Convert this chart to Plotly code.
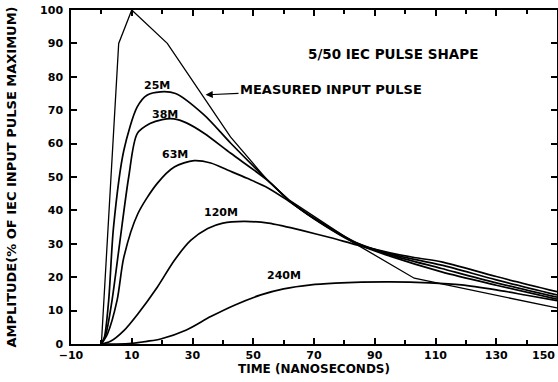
import plotly.graph_objects as go

# ---- data ----
t_measured = [0, 5.7, 10, 21.7, 42.5, 54.7, 62, 84.4, 103, 150]
y_measured = [0, 90, 100, 90, 62, 49, 43, 29.6, 19.7, 10.8]

t_25m = [0, 1, 2.4, 4, 7.4, 11.8, 15, 19.5, 24.4, 33.8, 42.6, 54.7, 62, 70, 84, 95, 112, 130, 150]
y_25m = [0, 2, 13, 35, 58, 71, 74.5, 75.5, 75, 68.6, 60.1, 49.1, 42.8, 37.5, 30, 26.3, 21.6, 17.6, 13.4]

t_38m = [0, 1.5, 3.5, 6, 9, 11.8, 16, 20, 23.9, 28, 33.8, 42.6, 54.7, 62, 70, 84, 95, 112, 130, 150]
y_38m = [0, 3, 13, 30, 50, 63, 66, 67.2, 67.4, 66.2, 63.1, 57.1, 49, 42.8, 37.6, 30.2, 26.7, 22.6, 18.3, 14.0]

t_63m = [0, 2, 5.2, 7.4, 12, 18.4, 24, 30.5, 36, 41.5, 48, 54.7, 62, 70, 84, 95, 112, 130, 150]
y_63m = [0, 3, 13.2, 26, 39, 48.1, 53, 54.9, 54.2, 52.1, 49.6, 46.8, 42.6, 37.7, 30.3, 27, 23.6, 19.2, 14.7]

t_120m = [0, 3, 7.4, 12, 18.4, 24, 29.4, 35, 40, 46.9, 55, 60, 66, 75.6, 84.4, 95, 103, 112, 130, 150]
y_120m = [0, 0.8, 4, 9, 17, 25, 31, 34.6, 36.2, 36.7, 36.2, 35.3, 34, 31.8, 29.6, 27.3, 25.9, 24.6, 20.2, 15.7]

t_240m = [0, 5, 10, 15, 19.5, 28, 36, 44, 52.5, 60, 69, 77, 85.5, 95, 108, 118.5, 130, 140, 150]
y_240m = [0, 0, 0.2, 0.8, 1.5, 4.2, 8.2, 11.7, 14.7, 16.5, 17.7, 18.2, 18.5, 18.6, 18.3, 17.7, 16.2, 14.6, 13.0]

x_tick_vals = [-10, 10, 30, 50, 70, 90, 110, 130]
x_last_tick_label = "150"
y_tick_vals = [0, 10, 20, 30, 40, 50, 60, 70, 80, 90, 100]

curve_labels = ["25M", "38M", "63M", "120M", "240M"]
label_t = [18.4, 20.8, 24.4, 39.3, 60.2]
label_y = [77.4, 68.8, 56.8, 39.5, 20.6]

FONT = "DejaVu Sans"

fig = go.Figure()
fig.add_trace(go.Scatter(x=t_measured, y=y_measured, mode="lines",
                         line=dict(color="black", width=1.3)))
for tx, ty in [(t_25m, y_25m), (t_38m, y_38m), (t_63m, y_63m),
               (t_120m, y_120m), (t_240m, y_240m)]:
    fig.add_trace(go.Scatter(x=tx, y=ty, mode="lines",
                             line=dict(color="black", width=1.7, shape="spline", smoothing=0.8)))

annotations = []
for txt, ax_, ay_ in zip(curve_labels, label_t, label_y):
    annotations.append(dict(x=ax_, y=ay_, xref="x", yref="y", text=txt, showarrow=False,
                            font=dict(family=FONT, size=11, color="black", weight="bold")))
annotations.append(dict(x=95.9, y=86.8, xref="x", yref="y", text="5/50 IEC PULSE SHAPE",
                        showarrow=False,
                        font=dict(family=FONT, size=13.5, color="black", weight="bold")))
annotations.append(dict(x=34.3, y=74.6, xref="x", yref="y",
                        ax=75.6, ay=76.3, axref="x", ayref="y",
                        text="MEASURED INPUT PULSE", showarrow=True,
                        arrowhead=2, arrowsize=1.2, arrowwidth=1.2, arrowcolor="black",
                        font=dict(family=FONT, size=13, color="black", weight="bold")))
# last x tick label, pulled inside the page like in the reference
annotations.append(dict(x=1, y=0, xref="paper", yref="paper", xanchor="right", yanchor="top",
                        yshift=-3, text=x_last_tick_label, showarrow=False,
                        font=dict(family=FONT, size=11, color="black", weight="bold")))

fig.update_layout(
    width=558, height=382,
    margin=dict(l=71, r=1, t=10, b=38),
    paper_bgcolor="white", plot_bgcolor="white",
    showlegend=False,
    annotations=annotations,
    font=dict(family=FONT, size=11, color="black", weight="bold"),
    xaxis=dict(
        range=[-10, 150], tickmode="array", tickvals=x_tick_vals,
        ticks="inside", ticklen=6, tickwidth=1.5, tickcolor="black",
        minor=dict(dtick=10, tick0=0, ticks="inside", ticklen=4, tickwidth=1.5, tickcolor="black"),
        showline=True, linecolor="black", linewidth=1.5, mirror="ticks",
        showgrid=False, zeroline=False, automargin=False, ticklabeloverflow="allow",
        tickfont=dict(family=FONT, size=11, color="black", weight="bold"),
        title=dict(text="TIME (NANOSECONDS)", standoff=4,
                   font=dict(family=FONT, size=12, color="black", weight="bold")),
    ),
    yaxis=dict(
        range=[0, 100], tickmode="array", tickvals=y_tick_vals,
        ticks="inside", ticklen=6, tickwidth=1.5, tickcolor="black",
        showline=True, linecolor="black", linewidth=1.5, mirror="ticks",
        showgrid=False, zeroline=False, automargin=False, ticklabelstandoff=4,
        ticklabeloverflow="allow",
        tickfont=dict(family=FONT, size=11, color="black", weight="bold"),
        title=dict(text="AMPLITUDE(% OF IEC INPUT PULSE MAXIMUM)", standoff=21,
                   font=dict(family=FONT, size=13, color="black", weight="bold")),
    ),
)

# remove the default 8px page margin so the figure fills the 558x382 window exactly
fig.write_html("out.html", config={"displayModeBar": False},
               post_script="document.body.style.margin='0px';")
